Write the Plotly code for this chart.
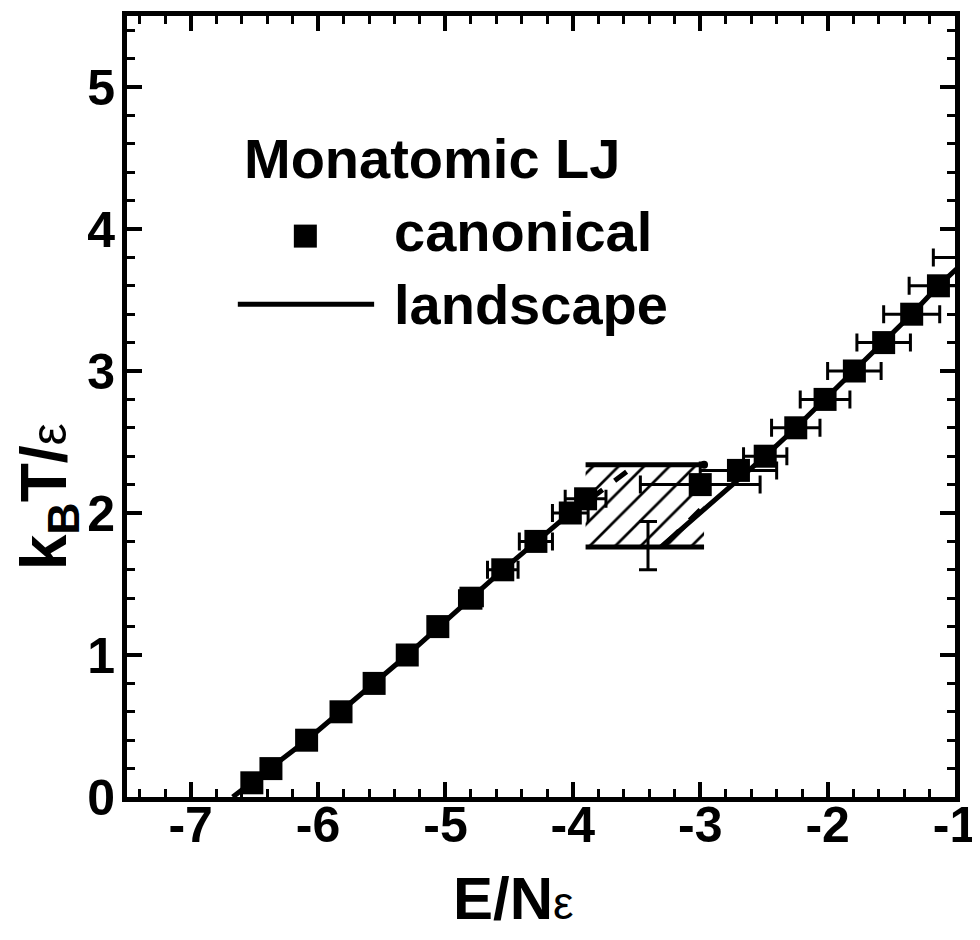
import plotly.graph_objects as go

# ---------------- data ----------------
canon_E = [-6.52, -6.37, -6.09, -5.82, -5.56, -5.30, -5.06, -4.80, -4.55, -4.29,
           -4.02, -3.90, -3.00, -2.70, -2.49, -2.25, -2.02, -1.79, -1.56, -1.34,
           -1.13, -0.90]
canon_T = [0.10, 0.20, 0.40, 0.60, 0.80, 1.00, 1.20, 1.40, 1.60, 1.80,
           2.00, 2.10, 2.20, 2.30, 2.40, 2.60, 2.80, 3.00, 3.20, 3.40,
           3.60, 3.80]
canon_Eerr = [0.03, 0.03, 0.04, 0.05, 0.05, 0.06, 0.07, 0.09, 0.12, 0.13,
              0.14, 0.16, 0.47, 0.30, 0.17, 0.19, 0.195, 0.21, 0.21, 0.22,
              0.23, 0.27]

land_left_E = [-6.67, -6.09, -5.30, -4.55, -4.02, -3.88]
land_left_T = [0.00, 0.40, 1.00, 1.60, 2.00, 2.12]
land_right_E = [-3.31, -2.49, -2.25, -2.02, -1.79, -1.56, -1.34, -1.13, -0.95]
land_right_T = [1.76, 2.40, 2.60, 2.80, 3.00, 3.20, 3.40, 3.60, 3.75]
land_dash1_E = [-3.86, -3.55]
land_dash1_T = [2.10, 2.31]
land_dash2_E = [-3.25, -2.98]
land_dash2_T = [1.80, 2.04]
land_err_E = [-3.41]
land_err_T = [1.77]
land_err_dT = [0.17]

coex_E = [-3.90, -2.97]          # left / right end of the coexistence lines
coex_T = [1.76, 2.34]            # lower / upper temperature

x_ticks = [-7, -6, -5, -4, -3, -2, -1]
y_ticks = [0, 1, 2, 3, 4, 5]

FONT = "Liberation Sans, Arial, Helvetica, sans-serif"

fig = go.Figure()

# hatched coexistence region
fig.add_trace(go.Scatter(
    x=[coex_E[0], coex_E[1], coex_E[1], coex_E[0], coex_E[0]],
    y=[coex_T[0], coex_T[0], coex_T[1], coex_T[1], coex_T[0]],
    mode="lines", fill="toself", line=dict(width=0, color="rgba(0,0,0,0)"),
    fillcolor="white",
    fillpattern=dict(shape="/", size=18, solidity=0.15, fgcolor="black",
                     bgcolor="white", fgopacity=1),
    showlegend=False, hoverinfo="skip"))
# upper and lower coexistence lines
for t in coex_T:
    fig.add_trace(go.Scatter(x=coex_E, y=[t, t], mode="lines",
                             line=dict(color="black", width=5), showlegend=False))
fig.add_trace(go.Scatter(x=[coex_E[1]], y=[coex_T[1]], mode="markers",
                         marker=dict(color="black", size=8), showlegend=False))

# landscape curve
fig.add_trace(go.Scatter(x=land_left_E, y=land_left_T, mode="lines",
                         line=dict(color="black", width=5), showlegend=False))
fig.add_trace(go.Scatter(x=land_right_E, y=land_right_T, mode="lines",
                         line=dict(color="black", width=5), showlegend=False))
fig.add_trace(go.Scatter(x=land_dash1_E, y=land_dash1_T, mode="lines",
                         line=dict(color="black", width=5, dash="dash"), showlegend=False))
fig.add_trace(go.Scatter(x=land_dash2_E, y=land_dash2_T, mode="lines",
                         line=dict(color="black", width=5, dash="dash"), showlegend=False))
fig.add_trace(go.Scatter(x=land_err_E, y=land_err_T, mode="markers",
                         marker=dict(size=1, color="black"),
                         error_y=dict(type="data", array=land_err_dT, color="black",
                                      thickness=3, width=9),
                         showlegend=False))

# canonical points
fig.add_trace(go.Scatter(
    x=canon_E, y=canon_T, mode="markers",
    marker=dict(symbol="square", size=23, color="black"),
    error_x=dict(type="data", array=canon_Eerr, color="black", thickness=3, width=9),
    showlegend=False))

# ---------- legend (drawn by hand, in data coordinates) ----------
fig.add_trace(go.Scatter(x=[-6.10], y=[3.95], mode="markers",
                         marker=dict(symbol="square", size=23, color="black"),
                         showlegend=False, cliponaxis=False))
fig.add_trace(go.Scatter(x=[-6.63, -5.56], y=[3.47, 3.47], mode="lines",
                         line=dict(color="black", width=5), showlegend=False))
for txt, xx, yy in [("Monatomic LJ", -6.60, 4.50),
                    ("canonical", -5.42, 3.98),
                    ("landscape", -5.42, 3.47)]:
    fig.add_annotation(x=xx, y=yy, xref="x", yref="y", text=txt, showarrow=False,
                       xanchor="left", yanchor="middle",
                       font=dict(family=FONT, size=56, color="black", weight="bold"))

# axis titles
fig.add_annotation(x=0.467, y=-0.130, xref="paper", yref="paper",
                   text='E/N<span style="font-weight:normal;font-size:46px">ε</span>',
                   showarrow=False, xanchor="center", yanchor="middle",
                   font=dict(family=FONT, size=60, color="black", weight="bold"))
fig.add_annotation(x=-0.0955, y=0.385, xref="paper", yref="paper", textangle=-90,
                   text='k<sub>B</sub>T/<span style="font-weight:normal;font-size:50px">ε</span>',
                   showarrow=False, xanchor="center", yanchor="middle",
                   font=dict(family=FONT, size=64, color="black", weight="bold"))

axis_common = dict(showgrid=False, zeroline=False, showline=True, linewidth=5,
                   linecolor="black", mirror="allticks", ticks="inside",
                   ticklen=15, tickwidth=4, tickcolor="black",
                   ticklabeloverflow="allow",
                   tickfont=dict(family=FONT, size=50, color="black", weight="bold"))

fig.update_xaxes(range=[-7.5, -1], tickmode="array", tickvals=x_ticks,
                 ticktext=[str(v) for v in x_ticks], ticklabelstandoff=-20,
                 minor=dict(ticks="inside", ticklen=8, tickwidth=3, dtick=0.2,
                            tick0=-7, tickcolor="black", showgrid=False),
                 **axis_common)
fig.update_yaxes(range=[0, 5.5], tickmode="array", tickvals=y_ticks,
                 ticktext=[str(v) for v in y_ticks], ticklabelstandoff=-3,
                 minor=dict(ticks="inside", ticklen=8, tickwidth=3, dtick=0.2,
                            tick0=0, tickcolor="black", showgrid=False),
                 **axis_common)

# the page body adds an 8 px offset; the figure is sized so the plot area
# lands at x 127..958, y 11..797 in the 980x940 window
fig.update_layout(width=972, height=932, plot_bgcolor="white", paper_bgcolor="white",
                  margin=dict(l=119, r=22, t=3, b=143), showlegend=False,
                  font=dict(family=FONT, color="black"))

fig.write_html("out.html")
